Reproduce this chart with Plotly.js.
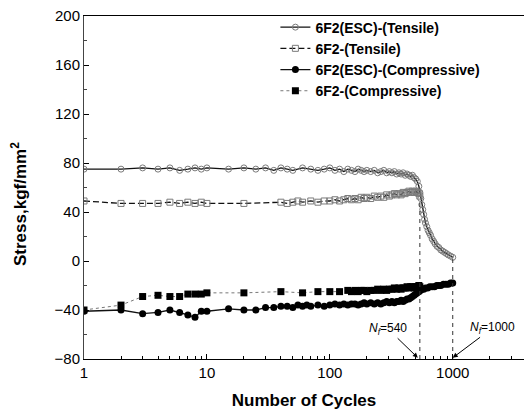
<!DOCTYPE html>
<html>
<head>
<meta charset="utf-8">
<script src="https://cdn.plot.ly/plotly-3.0.1.min.js"></script>
<style>html,body{margin:0;padding:0;background:#fff;}#chart{width:524px;height:416px;}</style>
</head>
<body>
<div id="chart"></div>
<script>
// ---- data ----
const escTensileN = [1,2,3,4,5,6,7,8,9,10,15,20,25,30,35,40,45,50,60,70,80,90,100,110,120,130,140,150,160,170,180,190,200,215,230,245,260,275,290,305,320,335,350,365,380,395,410,425,440,455,470,485,500,515,530,540,550,560,570,580,590,600,615,630,645,660,680,700,720,745,770,800,830,860,890,920,960,1000];
const escTensileS = [75,75,76,75,76,74,75,76,75,76,75,76,75,76,74,76,75,74,76,75,74,75,76,74,75,73,75,74,73,75,74,73,74,73,74,72,73,74,72,73,72,73,71,72,71,72,70,71,70,69,70,68,67,65,61,56,51,46,42,38,34,31,28,25,23,21,18,16,14,12,11,9,8,7,6,5,4,3];

const tensileN = [1,2,3,4,5,6,7,8,9,10,20,40,45,50,55,60,70,80,90,100,110,120,130,140,150,160,170,180,190,200,215,230,245,260,275,290,305,320,335,350,365,380,395,410,425,440,455,470,485,500,515,530,540];
const tensileS = [49,47,47,47,48,47,48,47,48,47,47,48,47,48,49,48,49,48,49,49,50,49,50,51,50,51,50,52,51,52,51,53,52,53,52,54,53,54,55,54,55,54,56,55,56,57,56,57,56,57,56,55,53];

const escCompN = [1,2,3,4,5,6,7,8,9,10,15,20,25,30,35,40,45,50,55,60,65,70,80,90,100,110,120,130,140,150,160,170,180,190,200,215,230,245,260,275,290,305,320,335,350,365,380,395,410,425,440,455,470,485,500,515,530,545,560,580,600,625,650,680,710,740,770,800,840,880,920,960,1000];
const escCompS = [-41,-40,-43,-42,-40,-42,-44,-46,-41,-41,-39,-40,-40,-38,-38,-37,-37,-38,-36,-37,-36,-37,-36,-37,-36,-35,-36,-35,-36,-35,-35,-36,-35,-34,-35,-34,-35,-34,-35,-34,-33,-34,-33,-34,-33,-33,-32,-33,-32,-31,-31,-30,-29,-28,-27,-26,-25,-24,-23,-23,-22,-22,-21,-21,-21,-20,-20,-20,-19,-19,-19,-18,-18];

const compN = [1,2,3,4,5,6,7,8,9,10,20,40,60,80,100,120,140,150,160,170,180,190,200,215,230,245,260,275,290,305,320,335,350,365,380,395,410,425,440,455,470,485,500,515,530,540];
const compS = [-40,-36,-29,-28,-29,-29,-27,-27,-27,-26,-26,-25,-26,-25,-25,-25,-24,-25,-24,-25,-24,-24,-25,-24,-24,-23,-24,-23,-24,-23,-23,-22,-23,-22,-23,-22,-22,-21,-22,-21,-21,-22,-21,-21,-20,-21];

const seriesNames = ['6F2(ESC)-(Tensile)','6F2-(Tensile)','6F2(ESC)-(Compressive)','6F2-(Compressive)'];
const failN = [540, 1000];
const failTop = [50, 4];
const failLabels = ['<i>N</i><sub><i>f</i></sub>=540', '<i>N</i><sub><i>f</i></sub>=1000'];
const yTicks = [-80,-40,0,40,80,120,160,200];
const xTicks = [1,10,100,1000];

const traces = [
  {x: escTensileN, y: escTensileS, name: seriesNames[0], mode: 'lines+markers',
   line: {color: '#111', width: 1.3},
   marker: {symbol: 'circle-open', size: 6, color: '#7a7a7a', line: {width: 1}}},
  {x: tensileN, y: tensileS, name: seriesNames[1], mode: 'lines+markers',
   line: {color: '#111', width: 1.3, dash: '6px,3px'},
   marker: {symbol: 'square-open', size: 6, color: '#7a7a7a', line: {width: 1}}},
  {x: escCompN, y: escCompS, name: seriesNames[2], mode: 'lines+markers',
   line: {color: '#111', width: 1.3},
   marker: {symbol: 'circle', size: 7, color: '#000'}},
  {x: compN, y: compS, name: seriesNames[3], mode: 'lines+markers',
   line: {color: '#777', width: 1, dash: 'dot'},
   marker: {symbol: 'square', size: 7, color: '#000'}}
];
failN.forEach((n, i) => {
  traces.push({x: [n, n], y: [-80, failTop[i]], mode: 'lines', showlegend: false, hoverinfo: 'skip',
    line: {color: '#333', width: 1, dash: '4px,4px'}});
});

const annotations = [
  {x: Math.log10(520), y: -79, xref: 'x', yref: 'y', text: failLabels[0], showarrow: true,
   ax: -30, ay: -29, arrowhead: 2, arrowsize: 1, arrowwidth: 1, arrowcolor: '#000',
   font: {family: 'Liberation Sans, Arial, sans-serif', size: 12, color: '#000'}},
  {x: Math.log10(1000), y: -79, xref: 'x', yref: 'y', text: failLabels[1], showarrow: true,
   ax: 40, ay: -30, arrowhead: 2, arrowsize: 1, arrowwidth: 1, arrowcolor: '#000',
   font: {family: 'Liberation Sans, Arial, sans-serif', size: 12, color: '#000'}},
  {x: (19 - 84) / 440, y: (359 - 204) / 343, xref: 'paper', yref: 'paper',
   text: '<b>Stress,kgf/mm<sup>2</sup></b>', showarrow: false,
   textangle: -90, xanchor: 'center', yanchor: 'middle',
   font: {family: 'Liberation Sans, Arial, sans-serif', size: 17, color: '#000'}}
];

const layout = {
  width: 524, height: 416,
  margin: {l: 84, r: 0, t: 16, b: 57, pad: 0},
  paper_bgcolor: '#fff', plot_bgcolor: '#fff',
  font: {family: 'Liberation Sans, Arial, sans-serif', color: '#000'},
  showlegend: true,
  legend: {x: 0.435, y: 1.013, xanchor: 'left', yanchor: 'top', bgcolor: 'rgba(0,0,0,0)',
    font: {size: 14, family: 'Liberation Sans, Arial, sans-serif', weight: 'bold'},
    tracegroupgap: 0, itemwidth: 30},
  xaxis: {type: 'log', range: [0, Math.log10(3800)], tickvals: xTicks, ticktext: xTicks.map(String),
    ticks: 'inside', ticklen: 5, tickcolor: '#000', showgrid: false, zeroline: false,
    showline: true, linecolor: '#000', linewidth: 1, mirror: true,
    minor: {ticks: 'inside', ticklen: 3, dtick: 'D1', tickcolor: '#000', showgrid: false},
    tickfont: {size: 15},
    title: {text: '<b>Number of Cycles</b>', font: {size: 17}, standoff: 14}},
  yaxis: {range: [-80, 200], tickvals: yTicks, ticks: 'inside', ticklen: 5, tickcolor: '#000',
    showgrid: false, zeroline: false, showline: true, linecolor: '#444', linewidth: 1,
    minor: {ticks: 'inside', ticklen: 3, dtick: 20, tickcolor: '#444', showgrid: false},
    tickfont: {size: 15}},
  annotations: annotations
};

Plotly.newPlot('chart', traces, layout, {displayModeBar: false, staticPlot: true});
</script>
</body>
</html>
